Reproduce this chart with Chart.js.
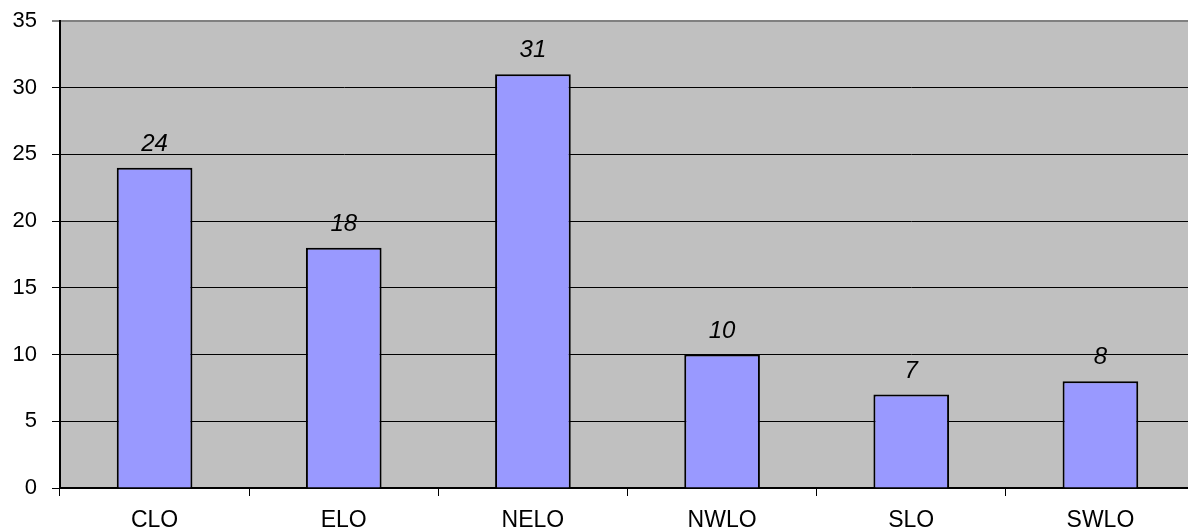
<!DOCTYPE html>
<html>
<head>
<meta charset="utf-8">
<script src="https://cdn.jsdelivr.net/npm/chart.js@4"></script>
<style>
  html, body { margin: 0; padding: 0; background: #fff; overflow: hidden; }
  #wrap { width: 1195px; height: 531px; }
</style>
</head>
<body>
<div id="wrap"><canvas id="bar-chart"></canvas></div>
<script>
const categories = ['CLO', 'ELO', 'NELO', 'NWLO', 'SLO', 'SWLO'];
const counts = [24, 18, 31, 10, 7, 8];
const yTicks = [0, 5, 10, 15, 20, 25, 30, 35];

const ctx = document.getElementById('bar-chart').getContext('2d');

// gray plot area behind everything
const plotBg = {
  id: 'plotBg',
  beforeDraw(chart) {
    const a = chart.chartArea, c = chart.ctx;
    c.save();
    c.fillStyle = '#C0C0C0';
    c.fillRect(a.left, a.top, a.right - a.left, a.bottom - a.top);
    c.restore();
  }
};

// italic value above each bar
const valueLabels = {
  id: 'valueLabels',
  afterDatasetsDraw(chart) {
    const c = chart.ctx;
    const meta = chart.getDatasetMeta(0);
    c.save();
    c.font = 'italic 24px "Liberation Sans", Arial, sans-serif';
    c.fillStyle = '#000';
    c.textAlign = 'center';
    c.textBaseline = 'alphabetic';
    meta.data.forEach((bar, i) => {
      c.fillText(counts[i], bar.x, bar.y - 17);
    });
    c.restore();
  }
};

new Chart(ctx, {
  type: 'bar',
  data: {
    labels: categories,
    datasets: [{
      data: counts,
      backgroundColor: '#9999FF',
      borderColor: '#000',
      borderWidth: 2,
      barPercentage: 0.4,
      categoryPercentage: 1,
    }]
  },
  options: {
    responsive: true,
    maintainAspectRatio: false,
    animation: false,
    layout: { padding: { top: 21, left: 0, right: 0, bottom: 0 } },
    plugins: {
      legend: { display: false },
      tooltip: { enabled: false }
    },
    scales: {
      x: {
        afterFit(scale) { scale.height = 43; },
        grid: {
          offset: true,
          drawOnChartArea: false,
          color: '#000',
          tickLength: 8
        },
        border: { color: '#000', width: 2 },
        ticks: {
          color: '#000',
          padding: 11,
          font: { family: '"Liberation Sans", Arial, sans-serif', size: 23 }
        }
      },
      y: {
        min: 0,
        max: 35,
        afterFit(scale) {
          scale.width = 60;
          scale.paddingTop = 0;
          scale.paddingBottom = 0;
        },
        afterBuildTicks(scale) { scale.ticks = yTicks.map(v => ({ value: v })); },
        grid: {
          color: ctx => ctx.tick && ctx.tick.value === 35 ? '#808080' : '#000',
          lineWidth: ctx => ctx.tick && ctx.tick.value === 35 ? 2 : 1,
          tickLength: 8
        },
        border: { color: '#000', width: 2 },
        ticks: {
          color: '#000',
          padding: 15,
          font: { family: '"Liberation Sans", Arial, sans-serif', size: 22 }
        }
      }
    }
  },
  plugins: [plotBg, valueLabels]
});
</script>
</body>
</html>
